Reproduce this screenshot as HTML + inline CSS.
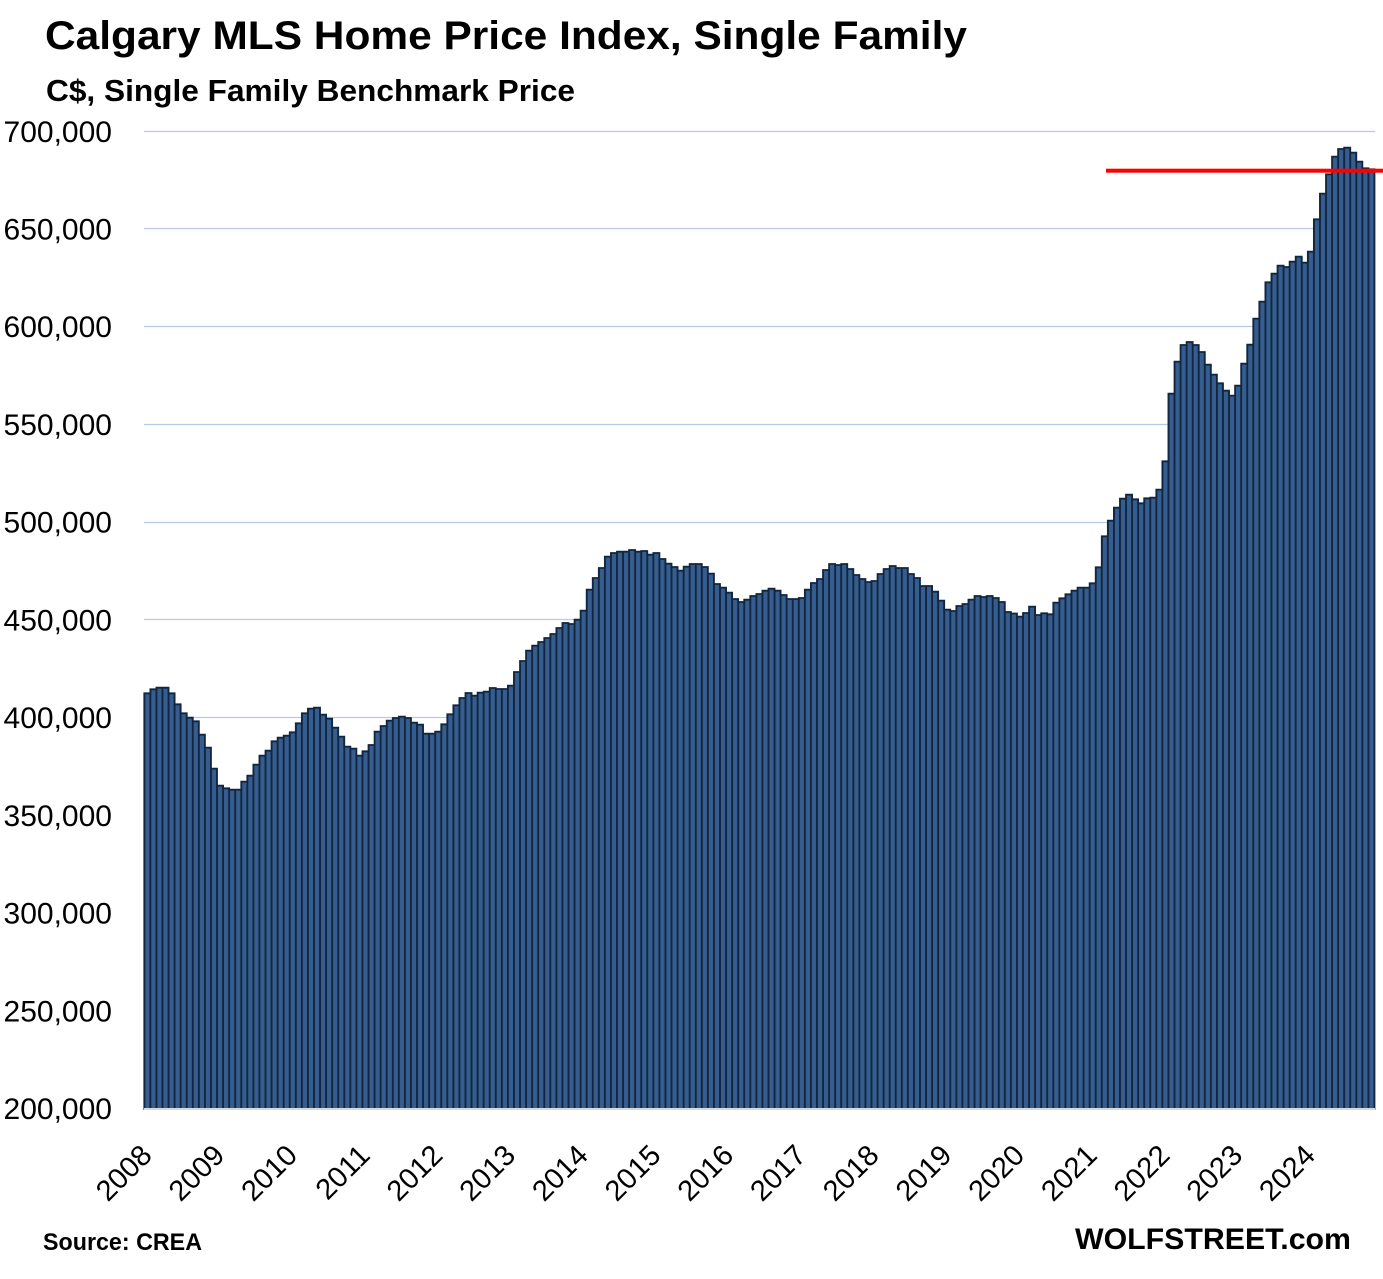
<!DOCTYPE html>
<html>
<head>
<meta charset="utf-8">
<style>
  html, body { margin: 0; padding: 0; background: #ffffff; overflow: hidden; }
  svg { display: block; }
  .ttl { font-family: "Liberation Sans", Arial, sans-serif; font-weight: bold; fill: #000; }
  .ax { font-family: "Liberation Sans", Arial, sans-serif; fill: #000; }
</style>
</head>
<body>
<svg xmlns="http://www.w3.org/2000/svg" xmlns:xlink="http://www.w3.org/1999/xlink" width="1383" height="1279" viewBox="0 0 1383 1279">
  <defs>
    <path id="bars" d="M144.3 1109V693.3h6.06V689.3h6.06V687.7h12.12V693.3h6.06V704.3h6.06V713.3h6.06V717.7h6.06V721.3h6.06V734.7h6.06V747.7h6.06V768.7h6.06V785.7h6.06V788.3h6.06V789.7h12.12V781.7h6.06V775.7h6.06V764.7h6.06V755.7h6.06V750.7h6.06V741.3h6.06V737.7h6.06V735.7h6.06V732.3h6.06V723.3h6.06V713.3h6.06V708.7h6.06V707.7h6.06V714.7h6.06V718.7h6.06V727.7h6.06V736.7h6.06V746.7h6.06V748.7h6.06V755.7h6.06V751.3h6.06V745h6.06V731.7h6.06V726h6.06V720.7h6.06V718h6.06V716.7h6.06V718h6.06V722.7h6.06V724.7h6.06V733.7h12.12V731.7h6.06V724.3h6.06V714.3h6.06V705.3h6.06V698h6.06V693h6.06V695.7h6.06V692.7h6.06V691.7h6.06V688h6.06V689h12.12V685.7h6.06V672h6.06V661h6.06V650.7h6.06V645.7h6.06V642h6.06V638h6.06V634h6.06V628h6.06V623h6.06V624h6.06V619.7h6.06V610.7h6.06V589.7h6.06V578h6.06V568h6.06V556.7h6.06V553h6.06V551.7h12.12V550h6.06V551.7h6.06V551h6.06V554.7h6.06V553h6.06V559h6.06V563.7h6.06V567h6.06V570.7h6.06V566.7h6.06V564h12.12V567h6.06V573.7h6.06V584h6.06V587.7h6.06V592.7h6.06V599h6.06V602h6.06V599.7h6.06V596h6.06V594h6.06V590.7h6.06V588.7h6.06V590.7h6.06V595h6.06V599h12.12V598h6.06V589.7h6.06V583h6.06V579h6.06V570h6.06V564h6.06V565h6.06V564h6.06V569h6.06V575h6.06V579h6.06V582h6.06V581h6.06V574h6.06V569h6.06V566h6.06V568h12.12V574h6.06V578h6.06V586h12.12V591.7h6.06V600.7h6.06V609.7h6.06V611h6.06V606h6.06V604h6.06V599.7h6.06V596h6.06V597h6.06V596h6.06V598h6.06V602h6.06V612h6.06V613.5h6.06V616.7h6.06V613h6.06V606.7h6.06V615h6.06V613.3h6.06V614.3h6.06V602.7h6.06V598.3h6.06V594.3h6.06V590.7h6.06V587.7h12.12V583.3h6.06V567.3h6.06V536.3h6.06V520.7h6.06V507.7h6.06V498.7h6.06V494.7h6.06V499.3h6.06V503.3h6.06V498.3h6.06V497.7h6.06V489.7h6.06V461.3h6.06V393.7h6.06V361.7h6.06V345h6.06V342h6.06V345h6.06V352h6.06V364.7h6.06V374.7h6.06V383.3h6.06V390.7h6.06V395.7h6.06V385.7h6.06V363.7h6.06V344.7h6.06V318.7h6.06V301.7h6.06V282.3h6.06V273.7h6.06V265.7h6.06V267h6.06V261.7h6.06V256.7h6.06V262.7h6.06V251.7h6.06V219.3h6.06V193.7h6.06V174.3h6.06V156.7h6.06V149h6.06V147.7h6.06V152.7h6.06V161.7h6.06V168.3h6.06V169.3h6.06V1109Z"/>
    <clipPath id="barclip"><use xlink:href="#bars"/></clipPath>
    <pattern id="stripes" patternUnits="userSpaceOnUse" x="144.3" y="0" width="6.06" height="40">
      <rect x="0" y="0" width="0.95" height="40" fill="#12263F"/>
      <rect x="5.11" y="0" width="0.95" height="40" fill="#12263F"/>
    </pattern>
  </defs>

  <rect x="0" y="0" width="1383" height="1279" fill="#ffffff"/>

  <text class="ttl" x="45" y="49" font-size="40" textLength="922" lengthAdjust="spacingAndGlyphs">Calgary MLS Home Price Index, Single Family</text>
  <text class="ttl" x="46" y="101" font-size="31" textLength="529" lengthAdjust="spacingAndGlyphs">C$, Single Family Benchmark Price</text>

  <g stroke="#B8CAE3" stroke-width="1.2">
    <line x1="144" y1="131.5" x2="1375" y2="131.5"/>
    <line x1="144" y1="228.5" x2="1375" y2="228.5"/>
    <line x1="144" y1="326.5" x2="1375" y2="326.5"/>
    <line x1="144" y1="424.5" x2="1375" y2="424.5"/>
    <line x1="144" y1="522.5" x2="1375" y2="522.5"/>
    <line x1="144" y1="619.5" x2="1375" y2="619.5"/>
    <line x1="144" y1="717.5" x2="1375" y2="717.5"/>
    <line x1="144" y1="815.5" x2="1375" y2="815.5"/>
    <line x1="144" y1="913.5" x2="1375" y2="913.5"/>
    <line x1="144" y1="1010.5" x2="1375" y2="1010.5"/>
  </g>

  <g class="ax" font-size="30" text-anchor="end">
    <text x="112" y="142">700,000</text>
    <text x="112" y="239.5">650,000</text>
    <text x="112" y="337">600,000</text>
    <text x="112" y="435">550,000</text>
    <text x="112" y="532.5">500,000</text>
    <text x="112" y="630.5">450,000</text>
    <text x="112" y="728">400,000</text>
    <text x="112" y="826">350,000</text>
    <text x="112" y="923.5">300,000</text>
    <text x="112" y="1021.5">250,000</text>
    <text x="112" y="1119">200,000</text>
  </g>

  <use xlink:href="#bars" fill="#355D8F"/>
  <rect x="144" y="140" width="1232" height="970" fill="url(#stripes)" clip-path="url(#barclip)"/>
  <use xlink:href="#bars" fill="none" stroke="#12263F" stroke-width="1.8"/>

  <line x1="144" y1="1109" x2="1375" y2="1109" stroke="#D9D9D9" stroke-width="2"/>

  <rect x="1106" y="168.7" width="277" height="4" fill="#FF0000"/>

  <g class="ax" font-size="29" text-anchor="end">
    <text transform="translate(153.5,1157) rotate(-45)">2008</text>
    <text transform="translate(226.2,1157) rotate(-45)">2009</text>
    <text transform="translate(298.9,1157) rotate(-45)">2010</text>
    <text transform="translate(371.6,1157) rotate(-45)">2011</text>
    <text transform="translate(444.3,1157) rotate(-45)">2012</text>
    <text transform="translate(517.0,1157) rotate(-45)">2013</text>
    <text transform="translate(589.7,1157) rotate(-45)">2014</text>
    <text transform="translate(662.4,1157) rotate(-45)">2015</text>
    <text transform="translate(735.1,1157) rotate(-45)">2016</text>
    <text transform="translate(807.8,1157) rotate(-45)">2017</text>
    <text transform="translate(880.5,1157) rotate(-45)">2018</text>
    <text transform="translate(953.3,1157) rotate(-45)">2019</text>
    <text transform="translate(1026.0,1157) rotate(-45)">2020</text>
    <text transform="translate(1098.7,1157) rotate(-45)">2021</text>
    <text transform="translate(1171.4,1157) rotate(-45)">2022</text>
    <text transform="translate(1244.1,1157) rotate(-45)">2023</text>
    <text transform="translate(1316.8,1157) rotate(-45)">2024</text>
  </g>

  <text class="ttl" x="43" y="1250" font-size="24" textLength="159" lengthAdjust="spacingAndGlyphs">Source: CREA</text>
  <text class="ttl" x="1075" y="1249" font-size="30" textLength="276" lengthAdjust="spacingAndGlyphs">WOLFSTREET.com</text>
</svg>
</body>
</html>
